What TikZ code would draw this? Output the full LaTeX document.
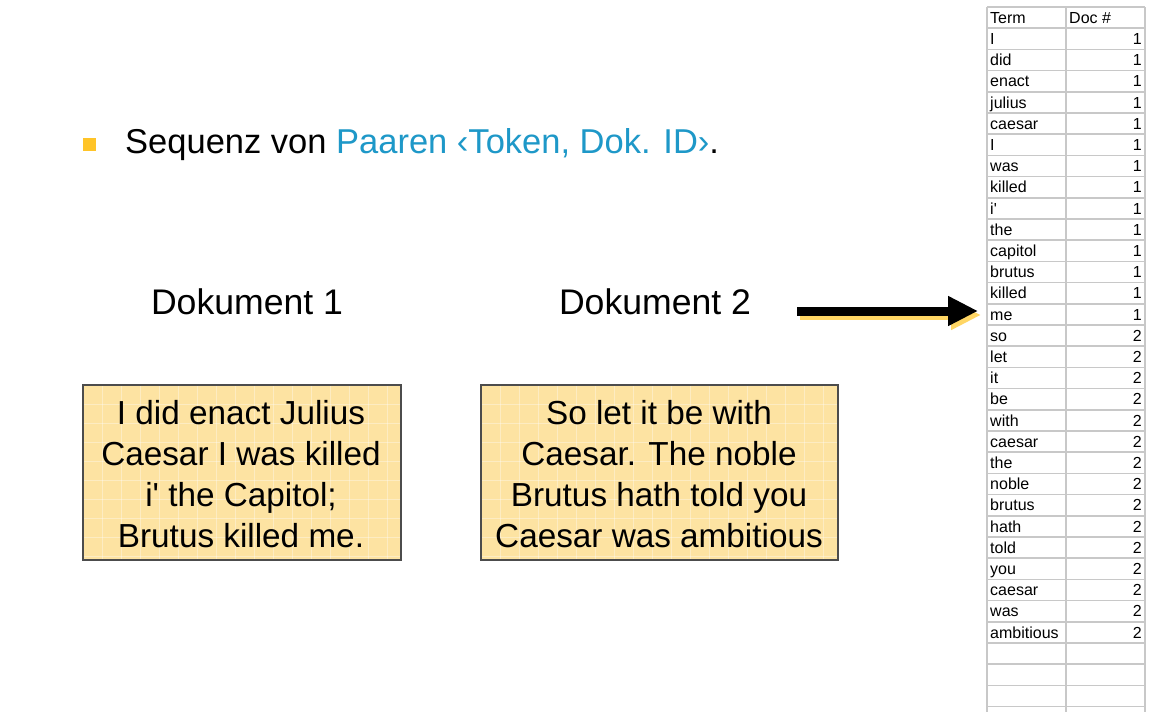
\documentclass[tikz,border=0pt]{standalone}
\usepackage{fontspec}
\setmainfont{Liberation Sans}
\usetikzlibrary{arrows.meta}
\definecolor{boxfill}{RGB}{253,227,162}
\definecolor{bulletc}{RGB}{255,196,40}
\definecolor{bluec}{RGB}{30,152,200}
\definecolor{gridc}{RGB}{200,200,200}
\definecolor{shadowc}{RGB}{255,214,100}
\tikzset{
  doclabel/.style={font=\fontsize{35.6}{40}\selectfont, inner sep=0pt},
  textbox/.style={draw=black!70, line width=1.2pt, fill=boxfill, minimum height=175pt, inner sep=0pt},
  boxtext/.style={font=\fontsize{33.3}{41}\selectfont, align=center, inner sep=0pt},
  term/.style={font=\fontsize{16}{17}\selectfont, anchor=base west, inner sep=0pt},
  num/.style={font=\fontsize{16}{17}\selectfont, anchor=base east, inner sep=0pt},
  tline/.style={draw=gridc, line width=1.5pt},
  boxgrid/.style={draw=white, opacity=0.35, line width=0.8pt},
  bigarrow/.style={line width=9pt, -{Triangle[length=30pt,width=28pt]}},
}
\begin{document}
\begin{tikzpicture}[x=1pt,y=-1pt]
\useasboundingbox (0,0) rectangle (1166,712);
\fill[white] (0,0) rectangle (1166,712);
% bullet and heading
\node[fill=bulletc, minimum size=13pt, inner sep=0pt] (bullet) at (89.5,144) {};
\node[anchor=base west, inner sep=0pt, font=\fontsize{34.5}{40}\selectfont] (head) at (125,153)
  {Sequenz von \textcolor{bluec}{Paaren ‹Token, Dok. ID›}.};
% document labels
\node[doclabel] (d1) at (247,302) {Dokument 1};
\node[doclabel] (d2) at (655,302) {Dokument 2};
% text boxes
\node[textbox, minimum width=318pt] (b1) at (242,472.5) {};
\node[textbox, minimum width=357pt] (b2) at (659.5,472.5) {};
\begin{scope}
\clip (83,385) rectangle (401,560);
\foreach \g in {1,...,17} { \draw[boxgrid] ({83+19*\g},385) -- ({83+19*\g},560); }
\foreach \g in {1,...,9} { \draw[boxgrid] (83,{385+19*\g}) -- (401,{385+19*\g}); }
\end{scope}
\begin{scope}
\clip (481,385) rectangle (838,560);
\foreach \g in {1,...,19} { \draw[boxgrid] ({481+19*\g},385) -- ({481+19*\g},560); }
\foreach \g in {1,...,9} { \draw[boxgrid] (481,{385+19*\g}) -- (838,{385+19*\g}); }
\end{scope}
\draw[draw=black!70, line width=1.2pt] (83,385) rectangle (401,560);
\draw[draw=black!70, line width=1.2pt] (481,385) rectangle (838,560);
\node[boxtext] (t1) at (241,474) {I did enact Julius\\Caesar I was killed\\i\textquotesingle{} the Capitol;\\Brutus killed me.};
\node[boxtext] (t2) at (659,474) {So let it be with\\Caesar. The noble\\Brutus hath told you\\Caesar was ambitious};
% table lines
\foreach \k in {0,...,33} { \draw[tline] (987,{7+21.2*\k}) -- (1145,{7+21.2*\k}); }
\draw[tline] (987,7) -- (987,712);
\draw[tline] (1066,7) -- (1066,712);
\draw[tline] (1145,7) -- (1145,712);
% table header
\node[term] (h1) at (990,23.3) {Term};
\node[term] (h2) at (1069,23.3) {Doc \#};
\foreach \t [count=\i] in {I,did,enact,julius,caesar,I,was,killed,i\textquotesingle,the,capitol,brutus,killed,me} {
  \node[term] (r\i) at (990,{23.3+21.2*\i}) {\t};
  \node[num] (n\i) at (1142,{23.3+21.2*\i}) {1};
}
\foreach \t [count=\i from 15] in {so,let,it,be,with,caesar,the,noble,brutus,hath,told,you,caesar,was,ambitious} {
  \node[term] (r\i) at (990,{23.3+21.2*\i}) {\t};
  \node[num] (n\i) at (1142,{23.3+21.2*\i}) {2};
}
% arrow
\coordinate (as) at (797,311);
\coordinate (ae) at (978,311);
\coordinate (ass) at (800,315);
\coordinate (aes) at (981,315);
\draw[bigarrow, shadowc] (ass) -- (aes);
\draw[bigarrow, black] (as) -- (ae);
\end{tikzpicture}
\end{document}
